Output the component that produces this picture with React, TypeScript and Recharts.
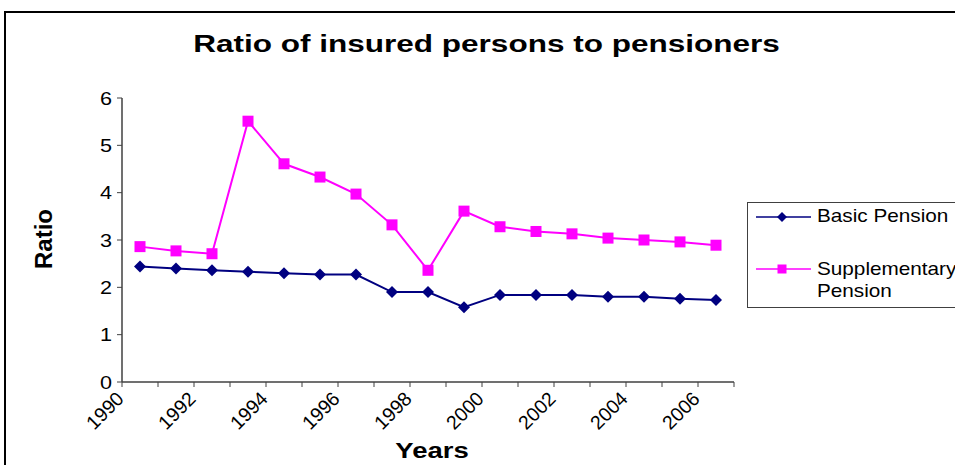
import { LineChart, Line, XAxis, YAxis } from "recharts"

const years = [
  "1990", "1991", "1992", "1993", "1994", "1995", "1996", "1997", "1998",
  "1999", "2000", "2001", "2002", "2003", "2004", "2005", "2006",
]
const basicPension = [2.44, 2.4, 2.36, 2.33, 2.3, 2.27, 2.27, 1.9, 1.9, 1.58, 1.84, 1.84, 1.84, 1.8, 1.8, 1.76, 1.73]
const supplementaryPension = [2.86, 2.77, 2.71, 5.51, 4.61, 4.33, 3.97, 3.32, 2.36, 3.61, 3.28, 3.18, 3.13, 3.04, 3.0, 2.96, 2.89]
const yTicks = [0, 1, 2, 3, 4, 5, 6]

const NAVY = "#000080"
const MAGENTA = "#FF00FF"
const FONT = "'Liberation Sans', Arial, sans-serif"

// points sit in the middle of each year's slot, boundaries carry the tick marks
const data = years.map((year, i) => ({
  year,
  pos: i + 0.5,
  basic: basicPension[i],
  supplementary: supplementaryPension[i],
}))
const boundaryTicks = years.map((_, i) => i).concat(years.length)

const Diamond = ({ cx, cy, fill, s = 6 }: any) => (
  <path d={`M${cx},${cy - s}L${cx + s},${cy}L${cx},${cy + s}L${cx - s},${cy}Z`} fill={fill} />
)
const Square = ({ cx, cy, fill, s = 5.5 }: any) => (
  <rect x={cx - s} y={cy - s} width={s * 2} height={s * 2} fill={fill} />
)

const YearTick = ({ x, y, payload }: any) => {
  const i = payload.value
  if (i % 2 !== 0 || i >= years.length) return null
  return (
    <text
      transform={`translate(${x + 3},${y + 11}) rotate(-45)`}
      textAnchor="end"
      fontSize={19.5}
      fontFamily={FONT}
      fill="#000"
    >
      {years[i]}
    </text>
  )
}

const RatioTick = ({ x, y, payload }: any) => (
  <text
    transform={`translate(${x - 3},${y + 6.5}) scale(1.2,1)`}
    textAnchor="end"
    fontSize={18}
    fontFamily={FONT}
    fill="#000"
  >
    {payload.value}
  </text>
)

const YearsTitle = ({ viewBox }: any) => {
  const cx = viewBox.x + viewBox.width / 2 + 4
  const cy = viewBox.y + 76
  return (
    <text
      transform={`translate(${cx},${cy}) scale(1.25,1)`}
      textAnchor="middle"
      fontSize={22}
      fontWeight="bold"
      fontFamily={FONT}
      fill="#000"
    >
      Years
    </text>
  )
}

const RatioTitle = () => (
  <text
    transform="translate(52,239) rotate(-90)"
    textAnchor="middle"
    fontSize={24}
    fontWeight="bold"
    fontFamily={FONT}
    fill="#000"
  >
    Ratio
  </text>
)

const legendText = {
  display: "inline-block",
  transform: "scaleX(1.12)",
  transformOrigin: "left center",
} as const

const LegendBox = () => (
  <div
    style={{
      position: "absolute",
      left: 747,
      top: 202,
      width: 260,
      height: 106,
      border: "1px solid #404040",
      boxSizing: "border-box",
      fontFamily: FONT,
      fontSize: 18.5,
      color: "#000",
    }}
  >
    <svg width={70} height={106} style={{ position: "absolute", left: 0, top: 0 }}>
      <line x1={8} x2={63} y1={14} y2={14} stroke={NAVY} strokeWidth={1.5} />
      <Diamond cx={34} cy={14} fill={NAVY} s={5} />
      <line x1={8} x2={63} y1={66} y2={66} stroke={MAGENTA} strokeWidth={1.5} />
      <Square cx={34} cy={66} fill={MAGENTA} s={4.5} />
    </svg>
    <div style={{ position: "absolute", left: 69, top: 2, lineHeight: "22px", whiteSpace: "nowrap" }}>
      <span style={legendText}>Basic Pension</span>
    </div>
    <div style={{ position: "absolute", left: 69, top: 55, lineHeight: "22px", whiteSpace: "nowrap" }}>
      <span style={legendText}>Supplementary</span>
      <br />
      <span style={legendText}>Pension</span>
    </div>
  </div>
)

export default function App() {
  return (
    <div style={{ position: "absolute", left: 0, top: 0, width: 955, height: 465, overflow: "hidden", background: "#fff" }}>
      <div
        style={{
          position: "absolute",
          left: 4,
          top: 11,
          width: 1000,
          height: 500,
          border: "2px solid #000",
          boxSizing: "border-box",
        }}
      />
      <div
        style={{
          position: "absolute",
          left: 0,
          top: 30,
          width: 973,
          textAlign: "center",
          fontFamily: FONT,
          fontWeight: "bold",
          fontSize: 23,
          lineHeight: "28px",
          transform: "scaleX(1.37)",
          transformOrigin: "486.5px center",
        }}
      >
        Ratio of insured persons to pensioners
      </div>
      <LineChart
        width={955}
        height={465}
        data={data}
        margin={{ top: 98, right: 221, bottom: 0, left: 72 }}
        style={{ position: "absolute", left: 0, top: 0 }}
      >
        <XAxis
          xAxisId="top"
          orientation="top"
          type="number"
          dataKey="pos"
          domain={[0, 17]}
          tick={false}
          tickLine={false}
          height={0}
          axisLine={{ stroke: "#808080", strokeWidth: 1.5 }}
        />
        <YAxis
          yAxisId="right"
          orientation="right"
          domain={[0, 6]}
          tick={false}
          tickLine={false}
          width={0}
          axisLine={{ stroke: "#808080", strokeWidth: 2 }}
        />
        <XAxis
          type="number"
          dataKey="pos"
          domain={[0, 17]}
          ticks={boundaryTicks}
          interval={0}
          height={83}
          tick={<YearTick />}
          tickSize={5}
          axisLine={{ stroke: "#404040", strokeWidth: 1.5 }}
          tickLine={{ stroke: "#404040" }}
          label={{ content: <YearsTitle /> }}
        />
        <YAxis
          domain={[0, 6]}
          ticks={yTicks}
          interval={0}
          width={50}
          tickSize={5}
          tick={<RatioTick />}
          axisLine={{ stroke: "#404040", strokeWidth: 1.5 }}
          tickLine={{ stroke: "#404040" }}
          label={{ content: <RatioTitle /> }}
        />
        <Line
          dataKey="basic"
          name="Basic Pension"
          stroke={NAVY}
          strokeWidth={2}
          isAnimationActive={false}
          dot={(p: any) => <Diamond key={`b${p.index}`} cx={p.cx} cy={p.cy} fill={NAVY} s={6} />}
          activeDot={false}
        />
        <Line
          dataKey="supplementary"
          name="Supplementary Pension"
          stroke={MAGENTA}
          strokeWidth={2}
          isAnimationActive={false}
          dot={(p: any) => <Square key={`s${p.index}`} cx={p.cx} cy={p.cy} fill={MAGENTA} s={5.5} />}
          activeDot={false}
        />
      </LineChart>
      <LegendBox />
    </div>
  )
}
